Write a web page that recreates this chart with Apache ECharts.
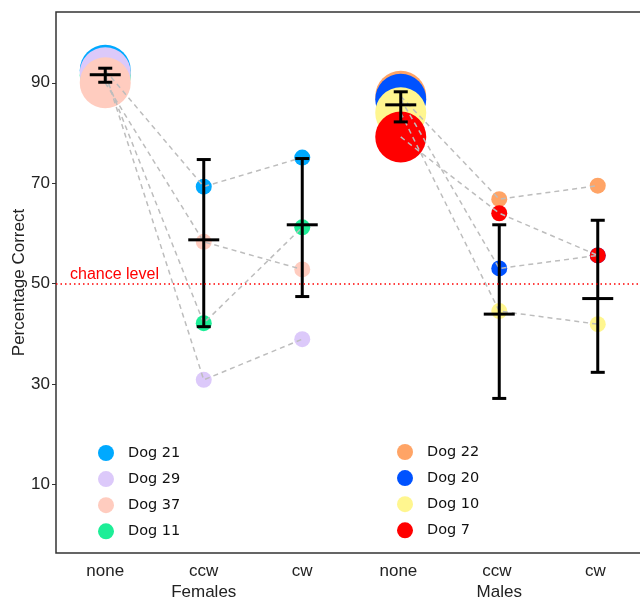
<!DOCTYPE html>
<html><head><meta charset="utf-8">
<script src="https://cdn.jsdelivr.net/npm/echarts@6/dist/echarts.min.js"></script>
<style>html,body{margin:0;padding:0;background:#fff}#c{width:640px;height:597px}</style>
</head><body><div id="c"></div>
<script>
// ---- data ----
const conditions = ['none', 'ccw', 'cw', 'none ', 'ccw ', 'cw '];
const groupLabels = [' ', 'Females', '  ', '   ', 'Males', '    '];
const yTicks = [10, 30, 50, 70, 90];
const chanceLevel = 50;

const femaleDogs = ['Dog 21', 'Dog 29', 'Dog 37', 'Dog 11'];
const maleDogs = ['Dog 22', 'Dog 20', 'Dog 10', 'Dog 7'];

// values per dog: none, ccw, cw
const dog21 = [92.5, 69.3, 75.1];
const dog29 = [92.0, 30.8, 38.9];
const dog37 = [90.0, 58.3, 52.8];
const dog11 = [91.5, 42.1, 61.2];
const dog22 = [87.3, 66.8, 69.5];
const dog20 = [86.7, 53.0, 55.6];
const dog10 = [84.0, 44.5, 41.9];
const dog7  = [79.2, 64.0, 55.6];

// group summary (error bars) per condition column
const errLow  = [90.1, 41.4, 47.4, 82.2, 27.1, 32.3];
const errMean = [91.6, 58.7, 61.7, 85.6, 43.9, 47.0];
const errHigh = [92.9, 74.7, 74.9, 88.2, 61.7, 62.6];

// ---- styling ----
const dogColors = {
  'Dog 21': '#00A9FF', 'Dog 29': '#DCC9FA', 'Dog 37': '#FFCCBF', 'Dog 11': '#1DEE97',
  'Dog 22': '#FFA466', 'Dog 20': '#0052FF', 'Dog 10': '#FFF68F', 'Dog 7': '#FF0000'
};
const dogValues = {
  'Dog 21': dog21, 'Dog 29': dog29, 'Dog 37': dog37, 'Dog 11': dog11,
  'Dog 22': dog22, 'Dog 20': dog20, 'Dog 10': dog10, 'Dog 7': dog7
};
const dogOffset = {}; // column offset: females 0, males 3
femaleDogs.forEach(d => dogOffset[d] = 0);
maleDogs.forEach(d => dogOffset[d] = 3);
// drawing order (bottom to top)
const drawOrder = ['Dog 21', 'Dog 11', 'Dog 29', 'Dog 37', 'Dog 22', 'Dog 20', 'Dog 10', 'Dog 7'];

const font = 'Liberation Sans, Arial, sans-serif';
const series = [];
drawOrder.forEach(name => {
  const data = dogValues[name].map((v, i) => [i + dogOffset[name], v]);
  series.push({
    type: 'scatter', name, data, z: 2,
    symbol: 'circle',
    symbolSize: (val, p) => p.dataIndex === 0 ? 51 : 16,
    itemStyle: { color: dogColors[name], opacity: 1 },
    emphasis: { disabled: true }, silent: true
  });
});
drawOrder.forEach(name => {
  const data = dogValues[name].map((v, i) => [i + dogOffset[name], v]);
  series.push({
    type: 'line', name: 'link ' + name, data, z: 3,
    symbol: 'none', silent: true,
    lineStyle: { color: '#BDBDBD', width: 1.5, type: [5, 4] }
  });
});
series.push({
  type: 'custom', name: 'summary', z: 4, silent: true,
  data: conditions.map((c, i) => [i, errLow[i], errMean[i], errHigh[i]]),
  encode: { x: 0, y: [1, 2, 3] },
  renderItem(params, api) {
    const x = api.value(0);
    const lo = api.coord([x, api.value(1)]);
    const mid = api.coord([x, api.value(2)]);
    const hi = api.coord([x, api.value(3)]);
    const cap = 7, mh = 15.5;
    const st = { stroke: '#000', lineWidth: 3 };
    return { type: 'group', children: [
      { type: 'line', shape: { x1: lo[0], y1: lo[1], x2: hi[0], y2: hi[1] }, style: st },
      { type: 'line', shape: { x1: lo[0] - cap, y1: lo[1], x2: lo[0] + cap, y2: lo[1] }, style: st },
      { type: 'line', shape: { x1: hi[0] - cap, y1: hi[1], x2: hi[0] + cap, y2: hi[1] }, style: st },
      { type: 'line', shape: { x1: mid[0] - mh, y1: mid[1], x2: mid[0] + mh, y2: mid[1] }, style: st }
    ]};
  },
  markLine: {
    silent: true, symbol: 'none',
    lineStyle: { color: '#FF0000', width: 1.5, type: [1.5, 3] },
    label: { show: true, position: 'insideStartTop', formatter: 'chance level',
      color: '#FF0000', fontSize: 16, fontFamily: font, distance: [14, 1] },
    data: [{ yAxis: chanceLevel }]
  }
});

const legendText = { fontSize: 14.5, color: '#111', fontFamily: 'DejaVu Sans, sans-serif', padding: [0, 0, 0, 9] };
const chart = echarts.init(document.getElementById('c'), null, { renderer: 'canvas' });
chart.setOption({
  animation: false,
  backgroundColor: '#fff',
  grid: { left: 56, right: -7, top: 12, bottom: 44, show: true, borderColor: '#333', borderWidth: 1.5,
    backgroundColor: 'transparent', outerBoundsMode: 'none', containLabel: false },
  legend: [
    { data: femaleDogs, orient: 'vertical', left: 98, top: 445, padding: 0, itemWidth: 16, itemHeight: 16, itemGap: 10.1,
      icon: 'circle', selectedMode: false, textStyle: legendText },
    { data: maleDogs, orient: 'vertical', left: 397, top: 444, padding: 0, itemWidth: 16, itemHeight: 16, itemGap: 10.1,
      icon: 'circle', selectedMode: false, textStyle: legendText }
  ],
  xAxis: [
    { type: 'category', data: conditions, boundaryGap: true,
      axisLine: { show: false }, axisTick: { show: false }, splitLine: { show: false },
      axisLabel: { interval: 0, fontSize: 17, color: '#222', fontFamily: font, margin: 10 } },
    { type: 'category', data: groupLabels, boundaryGap: true, position: 'bottom', offset: 21,
      axisLine: { show: false }, axisTick: { show: false }, splitLine: { show: false },
      axisLabel: { interval: 0, fontSize: 17, color: '#222', fontFamily: font, margin: 10 } }
  ],
  yAxis: {
    type: 'value', min: -3.7, max: 104.1,
    name: 'Percentage Correct', nameLocation: 'middle', nameGap: 28, nameMoveOverlap: false,
    nameTextStyle: { fontSize: 17, color: '#222', fontFamily: font },
    axisLine: { show: false }, splitLine: { show: false },
    axisTick: { show: true, length: 4, customValues: yTicks, lineStyle: { color: '#333', width: 1 } },
    axisLabel: { customValues: yTicks, fontSize: 17, color: '#222', fontFamily: font, margin: 6 }
  },
  series
});
</script></body></html>
